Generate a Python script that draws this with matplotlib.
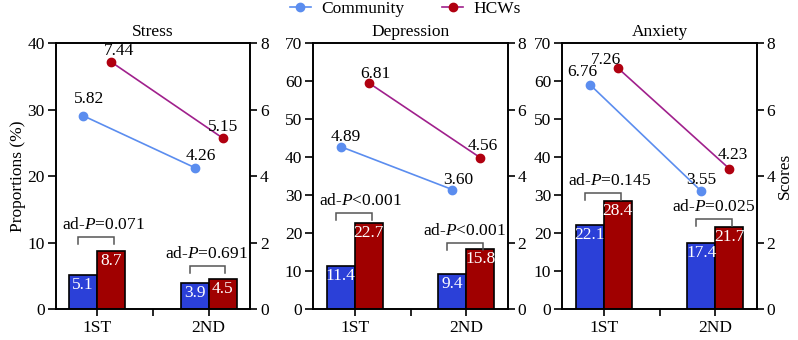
import matplotlib
matplotlib.use("Agg")
import matplotlib.pyplot as plt
from matplotlib.lines import Line2D
import numpy as np

plt.rcParams['font.family'] = ['Liberation Serif', 'DejaVu Serif']
plt.rcParams['mathtext.fontset'] = 'custom'
plt.rcParams['mathtext.rm'] = 'Liberation Serif'
plt.rcParams['mathtext.it'] = 'Liberation Serif:italic'
plt.rcParams['font.size'] = 12

# ---------------- data ----------------
panels = ["Stress", "Depression", "Anxiety"]
waves = ["1ST", "2ND"]
prop_community = [[5.1, 3.9], [11.4, 9.4], [22.1, 17.4]]
prop_hcw = [[8.7, 4.5], [22.7, 15.8], [28.4, 21.7]]
score_community = [[5.82, 4.26], [4.89, 3.60], [6.76, 3.55]]
score_hcw = [[7.44, 5.15], [6.81, 4.56], [7.26, 4.23]]
pvals = [["ad-$\\it{P}$=0.071", "ad-$\\it{P}$=0.691"],
         ["ad-$\\it{P}$<0.001", "ad-$\\it{P}$<0.001"],
         ["ad-$\\it{P}$=0.145", "ad-$\\it{P}$=0.025"]]
left_max = [40, 70, 70]
right_max = 8

# ---------------- layout / style (not data) ----------------
bracket_top = [[10.8, 6.5], [25.4, 17.5], [30.7, 23.7]]
label_off_comm = [[(6, 17), (6, 12)], [(5, 10), (6, 10)], [(-8, 13), (0, 11)]]
label_off_hcw = [[(8, 11), (0, 11)], [(7, 9), (2, 12)], [(-12, 8), (4, 14)]]

C_BAR = '#2B40D8'
H_BAR = '#A00000'
C_LINE = '#5B8DEF'
H_LINE = '#A0208C'
H_MARK = '#B00010'
FS = 12.5
MS = 6

W, H = 798, 340
fig = plt.figure(figsize=(W / 100, H / 100), dpi=100)
lefts = [55.7, 313.3, 562.3]
ax_w = 194.5
ax_top, ax_bot = 43.3, 309.3
bw = 0.25
x = np.arange(len(waves))

for i, name in enumerate(panels):
    ax = fig.add_axes([lefts[i] / W, 1 - ax_bot / H, ax_w / W, (ax_bot - ax_top) / H])
    ax2 = ax.twinx()
    ax.set_zorder(1)
    ax2.set_zorder(2)
    ax.patch.set_visible(False)

    ax.bar(x - bw / 2, prop_community[i], bw, color=C_BAR, edgecolor='black', linewidth=1.2, zorder=3)
    ax.bar(x + bw / 2, prop_hcw[i], bw, color=H_BAR, edgecolor='black', linewidth=1.2, zorder=3)
    for j in range(len(waves)):
        ax.annotate(f"{prop_community[i][j]}", (x[j] - bw / 2, prop_community[i][j]),
                    xytext=(0, -10), textcoords='offset pixels', ha='center', va='center',
                    color='white', zorder=4, fontsize=FS)
        ax.annotate(f"{prop_hcw[i][j]}", (x[j] + bw / 2, prop_hcw[i][j]),
                    xytext=(0, -10), textcoords='offset pixels', ha='center', va='center',
                    color='white', zorder=4, fontsize=FS)
        # bracket
        top = bracket_top[i][j]
        leg = 7 / 266 * left_max[i]
        xl, xr = x[j] - 0.17, x[j] + 0.15
        ax.plot([xl, xl, xr, xr], [top - leg, top, top, top - leg], color='#555555', lw=1.1,
                solid_joinstyle='miter', zorder=4)
        dx = 6 if j == 0 else -2
        ax.annotate(pvals[i][j], (x[j], top), xytext=(dx, 12), textcoords='offset pixels',
                    ha='center', va='center', zorder=5, fontsize=FS)

    ax.set_xlim(-0.372, 1.372)
    ax.set_ylim(0, left_max[i])
    ax.set_yticks(np.arange(0, left_max[i] + 1, 10))
    ax.set_xticks(x)
    ax.set_xticklabels(waves)
    ax.set_xticks([0.5], minor=True)
    ax.tick_params(axis='x', which='both', direction='out', length=5, width=1.2, pad=3, labelsize=FS)
    ax.tick_params(axis='y', direction='out', length=6, width=1.2, pad=2, labelsize=FS)
    for s in ax.spines.values():
        s.set_linewidth(1.2)

    ax2.plot(x - bw / 2, score_community[i], color=C_LINE, lw=1.2, marker='o', ms=MS,
             mfc=C_LINE, mec=C_LINE, zorder=3, clip_on=False)
    ax2.plot(x + bw / 2, score_hcw[i], color=H_LINE, lw=1.2, marker='o', ms=MS,
             mfc=H_MARK, mec=H_MARK, zorder=3, clip_on=False)
    for j in range(len(waves)):
        ax2.annotate(f"{score_community[i][j]:.2f}", (x[j] - bw / 2, score_community[i][j]),
                     xytext=(label_off_comm[i][j][0], label_off_comm[i][j][1]),
                     textcoords='offset pixels', ha='center', va='center', zorder=6, fontsize=FS)
        ax2.annotate(f"{score_hcw[i][j]:.2f}", (x[j] + bw / 2, score_hcw[i][j]),
                     xytext=(label_off_hcw[i][j][0], label_off_hcw[i][j][1]),
                     textcoords='offset pixels', ha='center', va='center', zorder=6, fontsize=FS)
    ax2.set_ylim(0, right_max)
    ax2.set_yticks(np.arange(0, right_max + 1, 2))
    ax2.tick_params(axis='y', direction='out', length=5, width=1.2, pad=2, labelsize=FS)
    for s in ax2.spines.values():
        s.set_linewidth(1.2)

    ax.set_title(name, fontsize=FS, pad=5)
    if i == 0:
        ax.set_ylabel("Proportions (%)", labelpad=1, fontsize=FS)
    if i == 2:
        ax2.set_ylabel("Scores", labelpad=1, fontsize=FS)

handles = [Line2D([], [], color=C_LINE, lw=1.2, marker='o', ms=MS, mfc=C_LINE, mec=C_LINE),
           Line2D([], [], color=H_LINE, lw=1.2, marker='o', ms=MS, mfc=H_MARK, mec=H_MARK)]
fig.legend(handles, ["Community", "HCWs"], loc='center', bbox_to_anchor=(0.508, 0.974),
           ncol=2, frameon=False, handlelength=1.2, columnspacing=2.2, handletextpad=0.6,
           fontsize=FS)

fig.savefig("out.png", dpi=100)
